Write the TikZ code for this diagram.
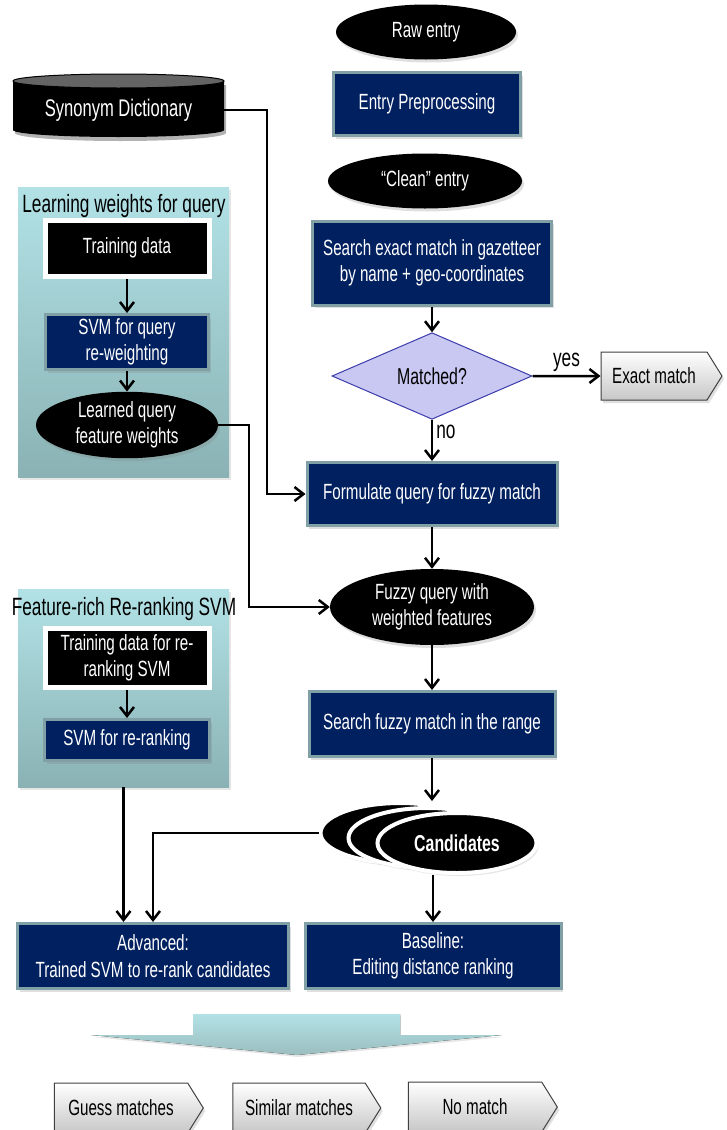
\documentclass[tikz,border=0pt]{standalone}
\usepackage{fontspec}
\setmainfont{Liberation Sans}[FakeStretch=0.69]
\usetikzlibrary{shapes.geometric,shapes.symbols,arrows.meta,shadows}

\definecolor{navybox}{RGB}{0,32,96}
\definecolor{boxrim}{RGB}{128,160,166}
\definecolor{paneltop}{RGB}{178,226,230}
\definecolor{panelbot}{RGB}{138,178,180}
\definecolor{decfill}{RGB}{200,200,242}
\definecolor{decrim}{RGB}{60,60,170}
\definecolor{cylcap}{RGB}{100,100,100}

\tikzset{
	procbox/.style={rectangle, fill=navybox, draw=boxrim, line width=3pt, text=white, align=center, inner sep=0pt,
		drop shadow={opacity=0.25, shadow xshift=2pt, shadow yshift=-3pt}},
	termell/.style={ellipse, fill=black, text=white, align=center, inner sep=0pt,
		drop shadow={opacity=0.25, shadow xshift=2pt, shadow yshift=-3pt}},
	databox/.style={rectangle, fill=black, draw=white, line width=5pt, text=white, align=center, inner sep=0pt},
	panel/.style={rectangle, top color=paneltop, bottom color=panelbot, draw=none, inner sep=0pt,
		drop shadow={opacity=0.2, shadow xshift=2pt, shadow yshift=-3pt}},
	paneltitle/.style={inner sep=0pt, font=\fontsize{25}{27}\selectfont},
	outbox/.style={signal, signal to=east, signal pointer angle=116, draw=black!75, line width=1pt,
		top color=white, bottom color=black!22, inner sep=0pt,
		drop shadow={opacity=0.25, shadow xshift=2pt, shadow yshift=-3pt}},
	candell/.style={ellipse, fill=black, draw=white, line width=4pt, minimum width=159pt, minimum height=60pt, inner sep=0pt,
		drop shadow={opacity=0.2, shadow xshift=2pt, shadow yshift=-3pt}},
	conn/.style={line width=2.5pt, -{Straight Barb[length=9pt,width=14pt]}},
	yesno/.style={font=\fontsize{25}{27}\selectfont, inner sep=3pt}
}

\begin{document}
\begin{tikzpicture}[x=1pt, y=-1pt, font=\fontsize{22}{26.5}\selectfont]
	\useasboundingbox (0,0) rectangle (727,1130);

	% right column
	\node[termell, minimum width=180pt, minimum height=55pt] (raw) at (426,32) {Raw entry};
	\node[procbox, minimum width=187pt, minimum height=63pt] (prep) at (427,104) {Entry Preprocessing};
	\node[termell, minimum width=194pt, minimum height=55pt] (clean) at (425,181) {“Clean” entry};
	\node[procbox, minimum width=239pt, minimum height=84pt] (sexact) at (432,263) {Search exact match in gazetteer\\by name + geo-coordinates};
	\node[diamond, fill=decfill, draw=decrim, line width=1pt, minimum width=200pt, minimum height=67pt, inner sep=0pt,
		font=\fontsize{23}{26}\selectfont] (matched) at (432,376) {Matched?};
	\node[outbox, minimum width=121pt, minimum height=48pt] (exact) at (654,376) {Exact match};
	\node[procbox, minimum width=250pt, minimum height=63pt] (form) at (432,494) {Formulate query for fuzzy match};
	\node[termell, minimum width=204pt, minimum height=76pt] (fuzzy) at (432,607) {Fuzzy query with\\weighted features};
	\node[procbox, minimum width=246pt, minimum height=65pt] (fsearch) at (432,724) {Search fuzzy match in the range};

	% candidates stack
	\node[candell] (candb) at (400,833) {};
	\node[candell] (candm) at (428,838) {};
	\node[candell, text=white, font=\fontsize{23}{24}\selectfont\bfseries] (cand) at (457,843) {Candidates};

	\node[procbox, minimum width=271pt, minimum height=65pt] (adv) at (153,956) {Advanced:\\Trained SVM to re-rank candidates};
	\node[procbox, minimum width=256pt, minimum height=65pt] (base) at (433,956) {Baseline:\\Editing distance ranking};

	% synonym dictionary
	\fill[black!30] (15,85) -- (15,133) arc[start angle=180, end angle=0, x radius=105.5, y radius=8] -- (226,85) -- cycle;
	\fill[black] (13,81) -- (13,130) arc[start angle=180, end angle=0, x radius=105.5, y radius=7] -- (224,81) -- cycle;
	\filldraw[fill=cylcap, draw=black, line width=1pt] (118.5,81) ellipse[x radius=105.5, y radius=7];
	\node[minimum width=211pt, minimum height=40pt, inner sep=0pt, text=white, font=\fontsize{24}{26}\selectfont] (syn) at (118.5,110) {Synonym Dictionary};

	% learning weights for query
	\node[panel, minimum width=211pt, minimum height=290pt] (lwpanel) at (123.5,332) {};
	\node[paneltitle] (lwtitle) at (124,206) {Learning weights for query};
	\node[databox, minimum width=164pt, minimum height=56pt] (tdq) at (127,248) {Training data};
	\node[procbox, minimum width=163pt, minimum height=55pt] (svmq) at (127,342) {SVM for query\\re-weighting};
	\node[termell, minimum width=182pt, minimum height=65pt] (learned) at (127,425) {Learned query\\feature weights};

	% feature-rich re-ranking
	\node[panel, minimum width=211pt, minimum height=198pt] (frpanel) at (123.5,688) {};
	\node[paneltitle] (frtitle) at (124,609) {Feature-rich Re-ranking SVM};
	\node[databox, minimum width=164pt, minimum height=59pt] (tdr) at (127,658) {Training data for re-\\ranking SVM};
	\node[procbox, minimum width=165pt, minimum height=41pt] (svmr) at (127,740) {SVM for re-ranking};

	% outcome arrow and results
	\fill[top color=paneltop, bottom color=panelbot!85, drop shadow={opacity=0.2, shadow xshift=1pt, shadow yshift=-2pt}]
		(193,1014) -- (400,1014) -- (400,1035) -- (502,1035) -- (297,1055) -- (91,1035) -- (193,1035) -- cycle;
	\node[outbox, minimum width=149pt, minimum height=50pt] (guess) at (121,1108) {Guess matches};
	\node[outbox, minimum width=148pt, minimum height=50pt] (similar) at (299,1108) {Similar matches};
	\node[outbox, minimum width=149pt, minimum height=50pt] (nomatch) at (475,1107) {No match};

	% connectors
	\draw[conn] (sexact) -- (matched);
	\draw[conn] (matched) -- node[yesno, above] {yes} (exact);
	\draw[conn] (matched) -- node[yesno, right, pos=0.3] {no} (form);
	\draw[conn] (form) -- (fuzzy);
	\draw[conn] (fuzzy) -- (fsearch);
	\draw[conn] (fsearch) -- (fsearch |- candb.north);
	\draw[conn] (base |- cand.south) -- (base.north);
	\draw[conn] (candb.west) -| (adv.north);
	\draw[conn] (frpanel.south) -- (frpanel.south |- adv.north);
	\draw[conn] (syn.east) -- ++(43,0) |- (form.west);
	\draw[conn] (learned.east) -- ++(31,0) |- (fuzzy.west);
	\draw[conn] (tdq) -- (svmq);
	\draw[conn] (svmq) -- (learned);
	\draw[conn] (tdr) -- (svmr);
\end{tikzpicture}
\end{document}
